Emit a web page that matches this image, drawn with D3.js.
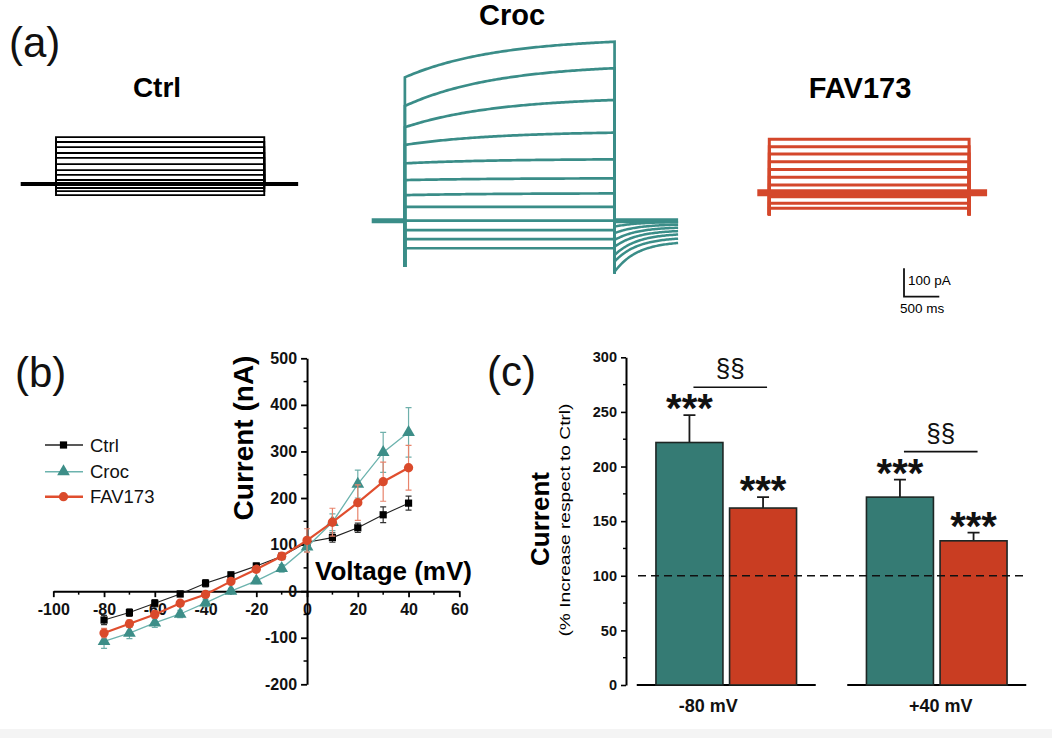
<!DOCTYPE html>
<html><head><meta charset="utf-8">
<script src="https://cdn.jsdelivr.net/npm/d3@7"></script>
<style>
body{margin:0;background:#fff}
svg{display:block}
text{font-family: Arial, "Liberation Sans", Helvetica, sans-serif;}
</style>
</head><body>
<svg id="fig" width="1052" height="738"></svg>
<script>
// ---------------- DATA ----------------
// Panel (b): I-V curves
const voltages = [-80,-70,-60,-50,-40,-30,-20,-10,0,10,20,30,40];
const ctrlI   = [-62,-46,-26,-6,17,35,54,75,105,115,136,164,189];
const ctrlErr = [10,8,8,6,8,6,6,6,8,10,10,17,15];
const crocI   = [-108,-90,-68,-49,-25,0,22,49,95,148,230,298,341];
const crocErr = [15,12,10,8,8,6,6,8,10,18,30,43,53];
const favI    = [-90,-70,-50,-26,-7,21,47,75,109,148,190,235,265];
const favErr  = [10,8,8,6,6,6,6,8,25,30,38,42,48];
const ivXTicks = [-100,-80,-60,-40,-20,0,20,40,60];
const ivYTicks = [-200,-100,0,100,200,300,400,500];
const ivSeries = ["Ctrl","Croc","FAV173"];

// Panel (c): % increase respect to Ctrl
const cGroups  = ["-80 mV","+40 mV"];
const cCroc    = [222,172];
const cCrocErr = [25,16];
const cFav     = [162,132];
const cFavErr  = [10,7.5];
const cTicks   = [0,50,100,150,200,250,300];
const cStars   = "***";
const cSig     = "§§";

// Panel (a): current traces (pA)
const ctrlSteps      = [165,148,130,109,92,70,49,32,14,-14,-25,-39];
const crocStepsStart = [505,404,329,267,202,143,90,49,0,-33,-65,-97];
const crocStepsEnd   = [630,537,425,310,216,149,96,49,0,-33,-65,-97];
const crocTailStart  = [-21,-44,-68,-92,-121,-144,-180];
const crocTailEnd    = [-4,-12,-22,-33,-44,-58,-72];
const crocTransOn    = -163;
const crocTransOff   = -185;
const favSteps       = [188,162,136,109,82,54,27,-14,-37,-55];
const favTransOn     = -79;
const scaleBarPA = 100, scaleBarMs = 500;

// ---------------- COLORS ----------------
const TEAL = "#357b74", RED = "#c93d22";
const svg = d3.select("#fig");
svg.append("rect").attr("width",1052).attr("height",738).attr("fill","#fff");
svg.append("rect").attr("y",729).attr("width",1052).attr("height",9).attr("fill","#f4f4f4");

// panel letters
[["(a)",9,57],["(b)",15,387],["(c)",487,386]].forEach(([t,x,y])=>{
  svg.append("text").attr("x",x).attr("y",y).attr("font-size",42).attr("fill","#111").text(t);
});

// ---------------- PANEL (a) ----------------
const pxPerMs = 35.3/500, pxPerPA = 28.4/100;
function panelScales(x0,t0,t1,base){
  const x = d3.scaleLinear().domain([t0,t1]).range([x0, x0+(t1-t0)*pxPerMs]);
  const y = d3.scaleLinear().domain([0,100]).range([base, base-100*pxPerPA]);
  return {x,y,line:d3.line().x(d=>x(d[0])).y(d=>y(d[1]))};
}
const ga = svg.append("g");
// Ctrl
{
  const T=2950, t0=-500, t1=3430;
  const s = panelScales(20.7,t0,t1,184);
  ga.append("path").attr("d",s.line([[t0,0],[t1,0]])).attr("stroke","#000").attr("stroke-width",4).attr("fill","none");
  ctrlSteps.forEach(v=>{
    ga.append("path").attr("d",s.line([[0,0],[0,v],[T,v],[T,0]]))
      .attr("stroke","#000").attr("stroke-width",1.9).attr("fill","none");
  });
  ga.append("text").attr("x",157).attr("y",97).attr("text-anchor","middle")
    .attr("font-size",28).attr("font-weight","bold").text("Ctrl");
}
// Croc
{
  const T=2970, t0=-470, t1=3870;
  const s = panelScales(371.7,t0,t1,220.7);
  const col="#3a8d88";
  ga.append("path").attr("d",s.line([[t0,0],[0,0]])).attr("stroke",col).attr("stroke-width",5).attr("fill","none");
  ga.append("path").attr("d",s.line([[T,0],[t1,0]])).attr("stroke",col).attr("stroke-width",5).attr("fill","none");
  const ts = d3.range(0,T+1,30);
  crocStepsStart.forEach((a,i)=>{
    const b = crocStepsEnd[i];
    const pts = [[0,crocTransOn],[0,a]];
    ts.forEach(t=>pts.push([t, a+(b-a)*(1-Math.exp(-t/1300))/(1-Math.exp(-T/1300))]));
    pts.push([T,b],[T,crocTransOff]);
    ga.append("path").attr("d",s.line(pts)).attr("stroke",col).attr("stroke-width",2.7).attr("fill","none");
  });
  const tt = d3.range(T,t1+1,20);
  crocTailStart.forEach((a,i)=>{
    const b = crocTailEnd[i];
    const pts = tt.map(t=>[t, b+(a-b)*Math.exp(-(t-T)/320)]);
    ga.append("path").attr("d",s.line(pts)).attr("stroke",col).attr("stroke-width",2.5).attr("fill","none");
  });
  ga.append("text").attr("x",512).attr("y",25).attr("text-anchor","middle")
    .attr("font-size",29).attr("font-weight","bold").text("Croc");
}
// FAV173
{
  const T=2830, t0=-170, t1=3085;
  const s = panelScales(757.3,t0,t1,192.7);
  const col="#d4472b";
  favSteps.forEach(v=>{
    ga.append("path").attr("d",s.line([[0,favTransOn],[0,v],[T,v],[T,favTransOn]]))
      .attr("stroke",col).attr("stroke-width",3).attr("fill","none");
  });
  ga.append("path").attr("d",s.line([[t0,0],[t1,0]])).attr("stroke",col).attr("stroke-width",7).attr("fill","none");
  ga.append("text").attr("x",860).attr("y",98).attr("text-anchor","middle")
    .attr("font-size",29).attr("font-weight","bold").text("FAV173");
  // scale bar
  const sx = d3.scaleLinear().domain([0,scaleBarMs]).range([904, 904+scaleBarMs*pxPerMs]);
  const sy = d3.scaleLinear().domain([0,scaleBarPA]).range([296.7, 296.7-scaleBarPA*pxPerPA]);
  ga.append("path").attr("d",`M${sx(0)},${sy(scaleBarPA)}V${sy(0)}H${sx(scaleBarMs)}`)
    .attr("stroke","#111").attr("stroke-width",1.8).attr("fill","none");
  ga.append("text").attr("x",sx(0)+4).attr("y",285).attr("font-size",13.5).text(`${scaleBarPA} pA`);
  ga.append("text").attr("x",900).attr("y",313).attr("font-size",13.5).text(`${scaleBarMs} ms`);
}

// ---------------- PANEL (b) ----------------
const xb = d3.scaleLinear().domain([-100,60]).range([53.3,459.3]);
const yb = d3.scaleLinear().domain([-200,500]).range([684.3,358.3]);
const gb = svg.append("g");
const gx = gb.append("g").attr("transform",`translate(0,${yb(0)})`)
  .call(d3.axisBottom(xb).tickValues(ivXTicks).tickSize(6).tickSizeOuter(0).tickPadding(6).tickFormat(d=>String(d)));
const gy = gb.append("g").attr("transform",`translate(${xb(0)},0)`)
  .call(d3.axisLeft(yb).tickValues(ivYTicks).tickSize(6).tickSizeOuter(0).tickPadding(4).tickFormat(d=>String(d)));
[gx,gy].forEach(g=>{
  g.select(".domain").attr("stroke","#000").attr("stroke-width",2);
  g.selectAll(".tick line").attr("stroke","#000").attr("stroke-width",1.8);
  g.selectAll(".tick text").attr("font-size",16).attr("font-weight","bold").attr("fill","#111")
   .attr("font-family","Arial, 'Liberation Sans', sans-serif");
});
d3.range(-90,60,20).forEach(v=>{
  gb.append("line").attr("x1",xb(v)).attr("x2",xb(v)).attr("y1",yb(0)).attr("y2",yb(0)+3.5).attr("stroke","#000").attr("stroke-width",1.5);
});
d3.range(-150,500,100).forEach(v=>{
  gb.append("line").attr("x1",xb(0)).attr("x2",xb(0)-3.5).attr("y1",yb(v)).attr("y2",yb(v)).attr("stroke","#000").attr("stroke-width",1.5);
});
gb.append("text").attr("transform",`translate(253,438) rotate(-90)`).attr("text-anchor","middle")
  .attr("font-size",28).attr("font-weight","bold").text("Current (nA)");
gb.append("text").attr("x",315).attr("y",580).attr("font-size",26).attr("font-weight","bold").text("Voltage (mV)");

const seriesDefs = [
  {name:"Ctrl", vals:ctrlI, err:ctrlErr, line:"#222", lw:1.1, mk:"#000", ec:"#333", shape:d3.symbolSquare, size:52},
  {name:"Croc", vals:crocI, err:crocErr, line:"#6cb3ae", lw:1.3, mk:"#3d8e88", ec:"#6fb0ab", shape:d3.symbolTriangle, size:70},
  {name:"FAV173", vals:favI, err:favErr, line:"#e04e2e", lw:2.2, mk:"#da4a2b", ec:"#e8846c", shape:d3.symbolCircle, size:68}
];
const lineB = d3.line().x((d,i)=>xb(voltages[i])).y(d=>yb(d));
seriesDefs.forEach(s=>{
  const g = gb.append("g");
  s.vals.forEach((v,i)=>{
    const x = xb(voltages[i]), y1 = yb(v+s.err[i]), y2 = yb(v-s.err[i]);
    g.append("path").attr("d",`M${x},${y1}V${y2}M${x-3},${y1}H${x+3}M${x-3},${y2}H${x+3}`)
      .attr("stroke",s.ec).attr("stroke-width",1.2).attr("fill","none");
  });
  g.append("path").attr("d",lineB(s.vals)).attr("stroke",s.line).attr("stroke-width",s.lw).attr("fill","none");
  s.vals.forEach((v,i)=>{
    g.append("path").attr("d",d3.symbol(s.shape,s.size)()).attr("transform",`translate(${xb(voltages[i])},${yb(v)})`)
      .attr("fill",s.mk);
  });
});
// legend
const legY = [445,471.7,496.7];
seriesDefs.forEach((s,i)=>{
  const y = legY[i];
  gb.append("line").attr("x1",45).attr("x2",83).attr("y1",y).attr("y2",y).attr("stroke",s.line).attr("stroke-width",s.lw+0.3);
  gb.append("path").attr("d",d3.symbol(s.shape,s.size)()).attr("transform",`translate(63.5,${y})`).attr("fill",s.mk);
  gb.append("text").attr("x",90).attr("y",y+6.5).attr("font-size",18.5).attr("fill","#111").text(ivSeries[i]);
});

// ---------------- PANEL (c) ----------------
const yc = d3.scaleLinear().domain([0,300]).range([685,357.3]);
const xc = d3.scaleBand().domain(cGroups).range([621,1042]);
const bw = xc.bandwidth();
const xin = d3.scaleBand().domain(["Croc","FAV173"]).range([bw/2-70.3, bw/2+70.3]).paddingInner(0.09);
const gc = svg.append("g");
const gyc = gc.append("g").attr("transform","translate(626,0)")
  .call(d3.axisLeft(yc).tickValues(cTicks).tickSize(5).tickSizeOuter(0).tickPadding(4));
gyc.select(".domain").attr("stroke","#000").attr("stroke-width",2);
gyc.selectAll(".tick line").attr("stroke","#000").attr("stroke-width",1.6);
gyc.selectAll(".tick text").attr("font-size",14.5).attr("font-weight","bold").attr("fill","#111")
  .attr("font-family","Arial, 'Liberation Sans', sans-serif");
d3.range(25,300,50).forEach(v=>{
  gc.append("line").attr("x1",626).attr("x2",623).attr("y1",yc(v)).attr("y2",yc(v)).attr("stroke","#000").attr("stroke-width",1.4);
});
gc.append("text").attr("transform","translate(549,519) rotate(-90)").attr("text-anchor","middle")
  .attr("font-size",26).attr("font-weight","bold").text("Current");
gc.append("text").attr("transform","translate(570,520) rotate(-90)").attr("text-anchor","middle")
  .attr("font-size",15.5).attr("textLength",233).attr("lengthAdjust","spacingAndGlyphs")
  .text("(% Increase respect to Ctrl)");

const labelShift = [-18,4];
cGroups.forEach((g,gi)=>{
  const gx0 = xc(g);
  const cx = gx0 + bw/2;
  // axis segment
  gc.append("line").attr("x1",cx-89.5).attr("x2",cx+89.5).attr("y1",yc(0)).attr("y2",yc(0)).attr("stroke","#000").attr("stroke-width",2);
  const bars = [{k:"Croc",v:cCroc[gi],e:cCrocErr[gi],c:TEAL},{k:"FAV173",v:cFav[gi],e:cFavErr[gi],c:RED}];
  bars.forEach(b=>{
    const x = gx0 + xin(b.k), w = xin.bandwidth(), mx = x + w/2;
    gc.append("path").attr("d",`M${mx},${yc(b.v)}V${yc(b.v+b.e)}M${mx-6},${yc(b.v+b.e)}H${mx+6}`)
      .attr("stroke","#1a1a1a").attr("stroke-width",1.8).attr("fill","none");
    gc.append("rect").attr("x",x).attr("y",yc(b.v)).attr("width",w).attr("height",yc(0)-yc(b.v))
      .attr("fill",b.c).attr("stroke","#1d2624").attr("stroke-width",1.6);
    gc.append("text").attr("x",mx).attr("y",yc(b.v+b.e)+7).attr("text-anchor","middle")
      .attr("font-size",40).attr("font-weight","bold").attr("fill","#111").text(cStars);
  });
  // significance bracket
  const c1 = gx0 + xin("Croc") + xin.bandwidth()/2 + 4;
  const c2 = gx0 + xin("FAV173") + xin.bandwidth()/2 + 4;
  const by = yc(cCroc[gi]+cCrocErr[gi]) - 28;
  gc.append("line").attr("x1",c1).attr("x2",c2).attr("y1",by).attr("y2",by).attr("stroke","#111").attr("stroke-width",1.6);
  gc.append("text").attr("x",(c1+c2)/2).attr("y",by-10).attr("text-anchor","middle")
    .attr("font-size",26).attr("fill","#111").text(cSig);
  gc.append("text").attr("x",cx+labelShift[gi]).attr("y",711.5).attr("text-anchor","middle")
    .attr("font-size",18).attr("font-weight","bold").attr("fill","#111").text(g);
});
// reference line at 100 %
gc.append("line").attr("x1",638).attr("x2",1028).attr("y1",yc(100)).attr("y2",yc(100))
  .attr("stroke","#111").attr("stroke-width",1.6).attr("stroke-dasharray","8,5");
</script>
</body></html>
